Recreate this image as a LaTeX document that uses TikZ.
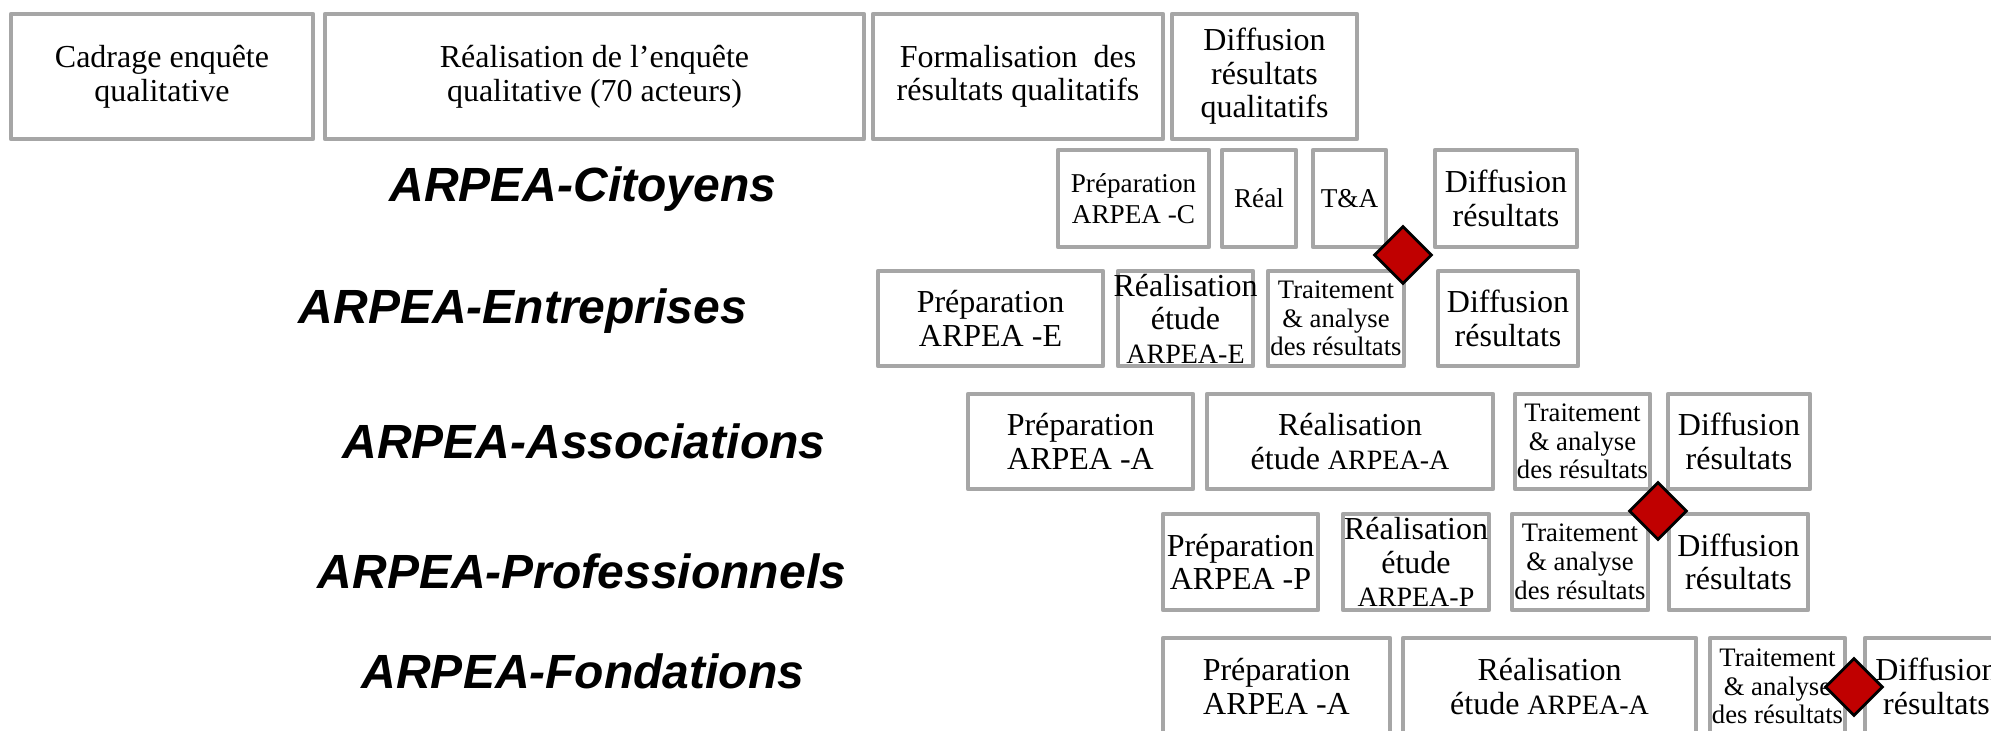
\documentclass[tikz,border=0pt]{standalone}
\usepackage{fontspec}
\setmainfont{Liberation Serif}
\newfontfamily\sansbi{Liberation Sans}
\usepackage{xcolor}
\usepackage{tikz}
\usetikzlibrary{shapes.geometric}
\definecolor{boxgray}{HTML}{A6A6A6}
\definecolor{mred}{HTML}{C00000}
\newcommand{\upx}{0.375pt}
\tikzstyle{cell}      = [rectangle, draw=boxgray, line width=1.8pt, line join=round, inner sep=0pt, align=center, fill=white]
\tikzstyle{bigtext}   = [font=\fontsize{12}{12.6}\selectfont]
\tikzstyle{smalltext} = [font=\fontsize{10}{10.8}\selectfont]
\tikzstyle{prepsmall} = [font=\fontsize{10.2}{11.4}\selectfont]
\tikzstyle{milestone} = [diamond, draw=black, fill=mred, line width=1.1pt, inner sep=0pt, minimum width=58*\upx, minimum height=58*\upx]
\tikzstyle{rowlabel}  = [font=\sansbi\bfseries\itshape\fontsize{18}{20}\selectfont]
\tikzset{wh/.style 2 args={minimum width=#1*\upx, minimum height=#2*\upx}}
\newcommand{\arpea}[1]{{\fontsize{10.5}{11}\selectfont ARPEA-#1}}

\begin{document}
\begin{tikzpicture}[x=\upx, y=-\upx]
    \path[use as bounding box, fill=white] (0,0) rectangle (1991,731);
    \clip (0,0) rectangle (1991,731);

    % enquete qualitative
    \node (cad)   [cell, bigtext, wh={302}{125}] at (162,76.5)    {Cadrage enquête\\qualitative};
    \node (realq) [cell, bigtext, wh={539}{125}] at (594.5,76.5)  {Réalisation de l’enquête\\qualitative (70 acteurs)};
    \node (form)  [cell, bigtext, wh={290}{125}] at (1018,76.5)   {Formalisation\ \ des\\résultats qualitatifs};
    \node (diffq) [cell, bigtext, wh={185}{125}] at (1264.5,76.5) {Diffusion\\résultats\\qualitatifs};

    % citoyens
    \node (lc)    [rowlabel] at (583,189) {ARPEA-Citoyens};
    \node (prepc) [cell, prepsmall, wh={151}{97}] at (1133.5,198.5) {Préparation\\ARPEA -C};
    \node (realc) [cell, prepsmall, wh={74}{97}]  at (1259,198.5)   {Réal};
    \node (tac)   [cell, prepsmall, wh={73}{97}]  at (1349.5,198.5) {T\&A};
    \node (diffc) [cell, bigtext, wh={142}{97}]   at (1506,198.5)   {Diffusion\\résultats};

    % entreprises
    \node (le)     [rowlabel] at (523,311) {ARPEA-Entreprises};
    \node (prepe)  [cell, bigtext, wh={225}{95}]   at (990.5,318.5) {Préparation\\ARPEA -E};
    \node (reale)  [cell, bigtext, wh={135}{95}]   at (1185.5,318.5) {\makebox[0pt]{Réalisation}\\étude\\\arpea{E}};
    \node (traite) [cell, smalltext, wh={136}{95}] at (1336,318.5)  {Traitement\\\& analyse\\des résultats};
    \node (diffe)  [cell, bigtext, wh={140}{95}]   at (1508,318.5)  {Diffusion\\résultats};

    % associations
    \node (la)     [rowlabel] at (584,441) {ARPEA-Associations};
    \node (prepa)  [cell, bigtext, wh={225}{95}]   at (1080.5,441.5) {Préparation\\ARPEA -A};
    \node (reala)  [cell, bigtext, wh={286}{95}]   at (1350,441.5)   {Réalisation\\étude \arpea{A}};
    \node (traita) [cell, smalltext, wh={135}{95}] at (1582.5,441.5) {Traitement\\\& analyse\\des résultats};
    \node (diffa)  [cell, bigtext, wh={142}{95}]   at (1739,441.5)   {Diffusion\\résultats};

    % professionnels
    \node (lp)     [rowlabel] at (582,571) {ARPEA-Professionnels};
    \node (prepp)  [cell, bigtext, wh={155}{96}]   at (1240.5,562) {Préparation\\ARPEA -P};
    \node (realp)  [cell, bigtext, wh={146}{96}]   at (1416,562)   {Réalisation\\étude\\\arpea{P}};
    \node (traitp) [cell, smalltext, wh={136}{96}] at (1580,562)   {Traitement\\\& analyse\\des résultats};
    \node (diffp)  [cell, bigtext, wh={139}{96}]   at (1738.5,562) {Diffusion\\résultats};

    % fondations
    \node (lf)     [rowlabel] at (583,671) {ARPEA-Fondations};
    \node (prepf)  [cell, bigtext, wh={227}{97}]   at (1276.5,686.5) {Préparation\\ARPEA -A};
    \node (realf)  [cell, bigtext, wh={293}{97}]   at (1549.5,686.5) {Réalisation\\étude \arpea{A}};
    \node (traitf) [cell, smalltext, wh={135}{97}] at (1777.5,686.5) {Traitement\\\& analyse\\des résultats};
    \node (difff)  [cell, bigtext, wh={143}{97}]   at (1936.5,686.5) {Diffusion\\résultats};

    % jalons
    \node (mc) [milestone] at (1403,255) {};
    \node (mp) [milestone] at (1658,511) {};
    \node (mf) [milestone] at (1854,687) {};
\end{tikzpicture}
\end{document}
